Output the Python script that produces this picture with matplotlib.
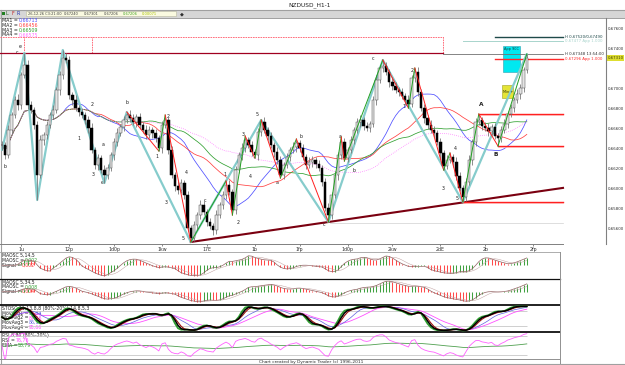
import numpy as np
import pandas as pd
import matplotlib
matplotlib.use("Agg")
import matplotlib.pyplot as plt
from matplotlib.patches import Rectangle

# hourly closes, left to right
close = [0.6644, 0.6634, 0.6659, 0.6674, 0.6689, 0.6684, 0.6714, 0.6724, 0.6684, 0.6679,
         0.6664, 0.6614, 0.6649, 0.6654, 0.6664, 0.6674, 0.6679, 0.6699, 0.6714, 0.6731,
         0.6729, 0.6694, 0.6689, 0.6681, 0.6677, 0.6674, 0.6669, 0.6661, 0.6639, 0.6624,
         0.6631, 0.6619, 0.6614, 0.6621, 0.6634, 0.6647, 0.6656, 0.6662, 0.6669, 0.6674,
         0.6671, 0.6667, 0.6672, 0.6664, 0.6659, 0.6654, 0.6659, 0.6656, 0.6651, 0.6641,
         0.6664, 0.6669, 0.6639, 0.6614, 0.6603, 0.6599, 0.6606, 0.6594, 0.6561, 0.6551,
         0.6564, 0.6574, 0.6584, 0.6577, 0.6567, 0.6563, 0.6559, 0.6574, 0.6584, 0.6594,
         0.6604, 0.6597, 0.6579, 0.6619, 0.6634, 0.6641, 0.6649, 0.6644, 0.6637, 0.6634,
         0.6657, 0.6667, 0.6659, 0.6653, 0.6644, 0.6637, 0.6629, 0.6614, 0.6624, 0.6632,
         0.6639, 0.6642, 0.6646, 0.6641, 0.6632, 0.6624, 0.6627, 0.6629, 0.6625, 0.6621,
         0.6607, 0.6581, 0.6574, 0.6594, 0.6614, 0.6634, 0.6647, 0.6631, 0.6639, 0.6649,
         0.6659, 0.6667, 0.6669, 0.6663, 0.6661, 0.6665, 0.6689, 0.6709, 0.6721, 0.6723,
         0.6717, 0.6707, 0.6703, 0.6699, 0.6697, 0.6693, 0.6689, 0.6685, 0.6711, 0.6717,
         0.6697, 0.6681, 0.6671, 0.6664, 0.6659, 0.6656, 0.6647, 0.6636, 0.6623, 0.6629,
         0.6632, 0.6627, 0.6613, 0.6601, 0.6592, 0.6607, 0.6629, 0.6647, 0.6667, 0.6669,
         0.6663, 0.6661, 0.6658, 0.6662, 0.6653, 0.6651, 0.6659, 0.6665, 0.6675, 0.6681,
         0.6689, 0.6695, 0.6701, 0.6719, 0.6731]

# wick lengths in pips above / below the body
wick_up = [4, 3, 5, 3, 4, 6, 3, 12, 5, 4,  3, 4, 5, 3, 4, 3, 5, 3, 4, 8,
           5, 4, 3, 5, 3, 4, 3, 4, 5, 3,  4, 3, 5, 4, 3, 4, 5, 3, 4, 3,
           5, 4, 3, 4, 3, 5, 4, 3, 4, 3,  4, 5, 3, 4, 3, 5, 4, 3, 4, 3,
           4, 3, 5, 4, 3, 4, 3, 5, 3, 4,  4, 5, 3, 4, 3, 5, 4, 3, 4, 3,
           4, 2, 5, 3, 4, 3, 5, 4, 3, 4,  3, 5, 4, 3, 4, 3, 5, 4, 3, 4,
           3, 4, 5, 3, 4, 3, 5, 4, 3, 4,  3, 4, 5, 3, 4, 3, 4, 5, 3, 6,
           4, 3, 5, 4, 3, 4, 3, 5, 3, 4,  5, 3, 4, 3, 5, 4, 3, 4, 3, 5,
           4, 3, 5, 4, 3, 4, 5, 3, 4, 6,  3, 4, 5, 3, 4, 3, 4, 5, 3, 4,
           3, 5, 4, 3, 4]
wick_dn = [5, 4, 3, 4, 3, 5, 4, 3, 4, 3,  4, 25, 3, 5, 4, 3, 4, 3, 5, 4,
           3, 4, 5, 3, 4, 3, 4, 5, 3, 4,  5, 3, 8, 4, 3, 5, 4, 3, 4, 3,
           4, 3, 5, 4, 3, 4, 3, 5, 4, 3,  5, 3, 4, 3, 5, 4, 3, 4, 3, 4,
           3, 5, 4, 3, 4, 3, 5, 4, 3, 4,  4, 3, 5, 4, 3, 5, 4, 3, 4, 3,
           5, 4, 3, 4, 3, 5, 4, 3, 4, 3,  4, 3, 5, 4, 3, 4, 3, 5, 4, 3,
           4, 3, 7, 4, 3, 5, 4, 3, 4, 3,  4, 3, 5, 4, 3, 4, 3, 5, 3, 4,
           3, 5, 4, 3, 4, 3, 5, 4, 3, 4,  4, 3, 5, 4, 3, 4, 3, 5, 4, 3,
           3, 5, 4, 3, 5, 4, 3, 5, 4, 3,  4, 3, 5, 4, 3, 8, 4, 3, 4, 3,
           4, 3, 5, 4, 3]

# swing pivots (bar index, H/L)
major_bars = [0, 7, 11, 19, 32, 39, 59, 81, 102, 119, 144, 164]
major_kind = "LHLHLHLHLHLH"
minor_bars = [39, 49, 51, 59, 70, 72, 76, 79, 81, 87, 92, 102, 106, 107,
              119, 127, 129, 138, 140, 144, 149, 155, 164]
minor_kind = "HLHLHLHLHLHLHLHLHLHLHLH"

ma_windows = [20, 30, 45, 60]
ma_colors = ['#5050ff', '#ff4040', '#30a030', '#ff70ff']
ma_labels = ['0,66713', '0,66456', '0,66509', '0,66575']

price_ticks = [0.676, 0.674, 0.670, 0.668, 0.666, 0.664, 0.662, 0.660, 0.658, 0.656]
day_bars = [6, 21, 35, 50, 64, 79, 93, 108, 122, 137, 151, 166]
day_labels = ['1u', '12p', '1d0p', '1kw', '17E', '1b', '1fp', '1d0p', '2kw', '2dE', '2b', '2fp']

# projected levels at the right edge
top_levels = [0.6752, 0.6748, 0.6730]
top_starts = [154, 144, 154]
top_colors = ['#1f4a4a', '#a8d4cc', '#ff2a2a']
top_texts = ['H 0,67520/0,67490', '0,67477 App 1.000', '0,67296 App 1.000']

wave_labels = [("c", 17, 52), ("e", 20, 46), ("b", 5, 166), ("1", 79, 139), ("2", 92, 104),
               ("3", 93, 175), ("a", 103, 145), ("e", 102, 183), ("b", 127, 103), ("1", 157, 156),
               ("2", 168, 116), ("3", 166, 203), ("4", 186, 173), ("5", 183, 239), ("c", 205, 200),
               ("1", 225, 175), ("2", 238, 223), ("3", 243, 135), ("4", 250, 177), ("5", 257, 115),
               ("a", 277, 183), ("b", 301, 137), ("c", 324, 225), ("a", 340, 137), ("b", 354, 171),
               ("c", 373, 59), ("1", 404, 107), ("2", 412, 70), ("3", 443, 189), ("4", 455, 149),
               ("5", 457, 199), ("A", 481, 105), ("B", 496, 155)]

W, H = 625, 365
fig = plt.figure(figsize=(W / 100, H / 100), dpi=100)
fig.patch.set_facecolor('white')

bg = fig.add_axes([0, 0, 1, 1], zorder=0)
bg.set_xlim(0, W)
bg.set_ylim(H, 0)
bg.axis('off')


def px_axes(x0, y0, x1, y1):
    ax = fig.add_axes([x0 / W, 1 - y1 / H, (x1 - x0) / W, (y1 - y0) / H], zorder=1)
    ax.patch.set_alpha(0)
    return ax


def bar_x(px):
    return (px - 2) / 3.2


def comma(v, d=5):
    return f"{v:.{d}f}".replace('.', ',')


def ptext(x, y, s, size=3.6, **kw):
    kw.setdefault('color', '#202020')
    return bg.text(x, y, s, fontsize=size, va='center', ha='left', **kw)


def label_value(ax_text, value, color, size=3.4):
    bg.annotate(value, xy=(1, 0.5), xycoords=ax_text, va='center', ha='left',
                fontsize=size, color=color)


# ---- frame / toolbar ----
bg.plot([0, W], [9.5, 9.5], color='#a0a0a0', lw=0.8)
bg.add_patch(Rectangle((0, 10), W, 7.5, fc='#d6d6d6', ec='none'))
bg.plot([0, W], [17.5, 17.5], color='#909090', lw=0.6)
bg.text(310, 4.8, 'NZDUSD_H1-1', fontsize=4.2, ha='center', va='center', color='#202020')
bg.add_patch(Rectangle((2, 12.3), 2.5, 2.8, fc='#208020', ec='none'))
ptext(6, 13.8, 'L', size=3.4, color='#206020')
ptext(11.5, 13.8, 'F', size=3.4, color='#c02020')
ptext(16.5, 13.8, 'R', size=3.4, color='#2030b0')
bg.add_patch(Rectangle((26, 11.3), 150, 5, fc='#fafae0', ec='#b8b8a0', lw=0.4))
for xx, s, col in [(27.5, '26-12-26 C3:21:00', '#404040'), (64, '0,67240', '#404040'),
                   (84, '0,67301', '#404040'), (103.5, '0,67206', '#404040'),
                   (122.5, '0,67206', '#40a020'), (142, '0,00071', '#a8c000')]:
    ptext(xx, 13.8, s, size=2.6, color=col)
ptext(180, 13.8, '\u25c6', size=3.6, color='#303030')

bg.plot([0.5, 0.5], [10, 364], color='#a0a0a0', lw=0.8)
bg.plot([0, 560], [252, 252], color='#a0a0a0', lw=0.6)
for yy, lw in [(278.5, 0.9), (305, 1.3), (332, 1.3)]:
    bg.plot([0, 560], [yy, yy], color='#101010', lw=lw)
bg.plot([0, 560], [358.5, 358.5], color='#909090', lw=0.7)
bg.plot([560, 560], [252, 365], color='#909090', lw=0.7)
bg.plot([0, W], [364, 364], color='#a0a0a0', lw=0.8)
bg.text(311, 361.5, 'Chart created by Dynamic Trader (c) 1996-2011', fontsize=3.2,
        ha='center', va='center', color='#303030')

# ---- price data ----
c = np.array(close)
o = np.r_[c[0], c[:-1]]
hi = np.maximum(o, c) + np.array(wick_up) * 1e-4
lo = np.minimum(o, c) - np.array(wick_dn) * 1e-4
x = np.arange(len(c))
s = pd.Series(c)

ax = px_axes(0, 18, 606, 244)
ax.set_xlim(bar_x(0), bar_x(606))
ax.set_ylim(0.6789 - 244e-4, 0.6789 - 18e-4)
for sp in ['left', 'top']:
    ax.spines[sp].set_visible(False)
ax.spines['right'].set_color('#808080')
ax.spines['right'].set_linewidth(0.8)
ax.spines['bottom'].set_color('#808080')
ax.spines['bottom'].set_linewidth(0.7)
ax.spines['bottom'].set_bounds(bar_x(0), bar_x(563))
ax.yaxis.tick_right()
ax.set_yticks(price_ticks)
ax.set_yticklabels([comma(v) for v in price_ticks])
ax.tick_params(axis='y', length=0, pad=1.5, labelsize=2.9, colors='#303030')
ax.set_xticks(day_bars)
ax.set_xticklabels(day_labels)
ax.tick_params(axis='x', length=1.5, width=0.4, pad=0.6, labelsize=3.4, colors='#303030')

# dashed resistance box and first-peak line
x_end = bar_x(563)
x_box = bar_x(443)
top_box = 0.6752
ax.plot([bar_x(0), x_box, x_box], [top_box, top_box, hi[7]], color='#ff5a6a', lw=0.6, ls=(0, (2, 1)))
for b in [7, 28]:
    ax.plot([b, b], [hi[7], top_box], color='#ff5a6a', lw=0.6, ls=(0, (2, 1)))
ax.plot([bar_x(0), x_box], [hi[7], hi[7]], color='#a00020', lw=0.9)
ax.plot([x_box, x_end], [hi[-1], hi[-1]], color='#707070', lw=0.6)
ptext(565, 54, 'H 0,67348 13:54:00', size=2.8, color='#303030')

for lev, st, col, txt in zip(top_levels, top_starts, top_colors, top_texts):
    ax.plot([st, x_end], [lev, lev], color=col, lw=1.0 if col != '#a8d4cc' else 0.7)
    ptext(565, 0.6789e4 - lev * 1e4, txt, size=2.8, color=col)

# moving averages
for w, col in zip(ma_windows, ma_colors):
    ma = s.rolling(w, min_periods=1).mean()
    ax.plot(x, ma, color=col, lw=0.55, ls=':' if col == '#ff70ff' else '-')

# trendline through the two lows
t0, t1 = 59, 102
slope = (lo[t1] - lo[t0]) / (t1 - t0)
ax.plot([t0, x_end], [lo[t0], lo[t0] + slope * (x_end - t0)], color='#7a0010', lw=1.5)
ax.plot([bar_x(330), x_end], [lo[t1] - 0.0001, lo[t1] - 0.0001], color='#d0d0d0', lw=0.5)

# horizontal levels A, B and the last low
for b, val in [(149, hi[149]), (155, lo[155]), (144, lo[144])]:
    ax.plot([b, x_end], [val, val], color='#ff2020', lw=1.0)
    ax.plot([b, x_end], [val - 0.00012, val - 0.00012], color='#ffa0a0', lw=0.5)

# major zigzag
zz = [hi[b] if k == 'H' else lo[b] for b, k in zip(major_bars, major_kind)]
ax.plot(major_bars, zz, color='#86cccc', lw=1.6, solid_capstyle='round', zorder=2)

# candles
up = c >= o
ax.vlines(x, lo, hi, color='#7a7a7a', lw=0.6, zorder=3)
ax.bar(x[up], np.maximum(c - o, 0.00004)[up], bottom=o[up], width=0.7,
       color='#e4e4e4', edgecolor='#505050', lw=0.35, zorder=4)
ax.bar(x[~up], (o - c)[~up], bottom=c[~up], width=0.7,
       color='#000000', edgecolor='#000000', lw=0.35, zorder=4)

# minor zigzag
mz = [hi[b] if k == 'H' else lo[b] for b, k in zip(minor_bars, minor_kind)]
for i in range(len(minor_bars) - 1):
    col = '#20a020' if mz[i + 1] > mz[i] else '#ff2020'
    ax.plot(minor_bars[i:i + 2], mz[i:i + 2], color=col, lw=0.7, zorder=5)

# target boxes
ax.add_patch(Rectangle((156.5, 0.6717), 5.5, 0.0026, fc='#00e8f0', ec='#30a0b0', lw=0.4, zorder=1))
ax.text(156.8, 0.6740, 'App 90C', fontsize=2.5, color='#104040', va='center', zorder=6)
ax.add_patch(Rectangle((156.3, 0.6691), 3.4, 0.0013, fc='#e4e436', ec='#a0a020', lw=0.4, zorder=1))
ax.text(156.5, 0.66975, 'Min +', fontsize=2.5, color='#303010', va='center', zorder=6)

for t, xx, yy in wave_labels:
    bold = t in 'AB'
    bg.text(xx, yy, t, fontsize=4.2 if bold else 3.4, ha='center', va='center',
            color='#202020', fontweight='bold' if bold else 'normal', zorder=6)

# current price tag on the axis
yy_last = 0.6789e4 - c[-1] * 1e4
bg.add_patch(Rectangle((606.5, yy_last - 3), 17, 6, fc='#dede30', ec='none', zorder=5))
bg.text(607.5, yy_last, comma(c[-1]), fontsize=2.8, va='center', ha='left', color='#404000', zorder=6)

# MA readouts
for i, (lab, col) in enumerate(zip(ma_labels, ma_colors)):
    t = ptext(2.5, 20.5 + 4.8 * i, f'MA{i + 1} =', size=3.4)
    label_value(t, lab, col)

# ---- indicator panes ----
panes = [(252, 278.5), (278.5, 305), (305, 332), (332, 358.5)]
axs = []
for y0, y1 in panes:
    a = px_axes(0, y0, 560, y1)
    a.set_xlim(bar_x(0), bar_x(560))
    a.set_xticks([])
    a.set_yticks([])
    for sp in a.spines.values():
        sp.set_visible(False)
    axs.append(a)

for a, slow in [(axs[0], 14), (axs[1], 34)]:
    osc = s.rolling(5, min_periods=1).mean() - s.rolling(slow, min_periods=1).mean()
    sig = osc.rolling(5, min_periods=1).mean()
    cols = np.where(osc.diff().fillna(0) >= 0, '#40a040', '#ff4a4a')
    a.vlines(x, 0, osc, colors=cols, lw=0.75)
    a.plot(x, osc, color='#906060', lw=0.5)
    a.plot(x, sig, color='#c0a0a0', lw=0.35)
    m = np.abs(osc).max() * 1.25
    a.set_ylim(-m, m)

for (y0, _), name, vals in [(panes[0], 'MAOSC 5,14,5', ('0,002', '0,002')),
                            (panes[1], 'MAOSC 5,34,5', ('0,008', '0,004'))]:
    ptext(2.5, y0 + 3.5, name, size=3.3)
    t = ptext(2.5, y0 + 8.3, 'MAOSC =', size=3.3)
    label_value(t, vals[0], '#30a030', 3.3)
    t = ptext(2.5, y0 + 13.1, 'Signal =', size=3.3)
    label_value(t, vals[1], '#ff3030', 3.3)

# stochastics
hh = pd.Series(hi).rolling(21, min_periods=1).max()
ll = pd.Series(lo).rolling(21, min_periods=1).min()
k = 100 * (s - ll) / (hh - ll)
k = k.rolling(3, min_periods=1).mean()
a = axs[2]
a.set_ylim(-2, 102)
a.hlines([80, 20], 0, x[-1], color='#c8c8c8', lw=0.6)
a.plot(x, k.rolling(13, min_periods=1).mean(), color='#ff50ff', lw=0.6)
a.plot(x, k.rolling(8, min_periods=1).mean(), color='#6060e0', lw=0.5)
a.plot(x, k.rolling(2, min_periods=1).mean(), color='#30a030', lw=1.3)
a.plot(x, k.rolling(4, min_periods=1).mean(), color='#a01010', lw=0.8)
a.plot(x, k.rolling(3, min_periods=1).mean(), color='#000000', lw=1.1)
ptext(2.5, 308.5, 'STOSC 21,13,8,8 (80%-20%) 14,8,5,3', size=3.3)
for i, (v, col) in enumerate(zip(['94,84', '87,76', '86,13', '95,66'],
                                 ['#2020d0', '#ff40ff', '#6060e0', '#ff40ff'])):
    t = ptext(2.5, 313.3 + 4.7 * i, f'MovAvg{i + 1} =', size=3.3)
    label_value(t, v, col, 3.3)

# RSI
d = s.diff().fillna(0)
gain = d.clip(lower=0).ewm(alpha=1 / 8, adjust=False).mean()
loss = (-d.clip(upper=0)).ewm(alpha=1 / 8, adjust=False).mean()
rsi = 100 * gain / (gain + loss).replace(0, np.nan)
rsi = rsi.fillna(50)
a = axs[3]
a.set_ylim(10.5, 92.6)
a.hlines([80, 20], 0, x[-1], color='#c8c8c8', lw=0.6)
a.plot(x, rsi.ewm(span=55, adjust=False).mean(), color='#50a050', lw=0.6)
a.plot(x, rsi, color='#ff60ff', lw=0.6)
ptext(2.5, 335.5, 'RSI 8,80 (80%-20%)', size=3.3)
t = ptext(2.5, 340.3, 'RSI =', size=3.3)
label_value(t, '76,76', '#ff40ff', 3.3)
t = ptext(2.5, 345.1, 'EMA =', size=3.3)
label_value(t, '58,79', '#30a030', 3.3)

fig.savefig('out.png', dpi=100)
